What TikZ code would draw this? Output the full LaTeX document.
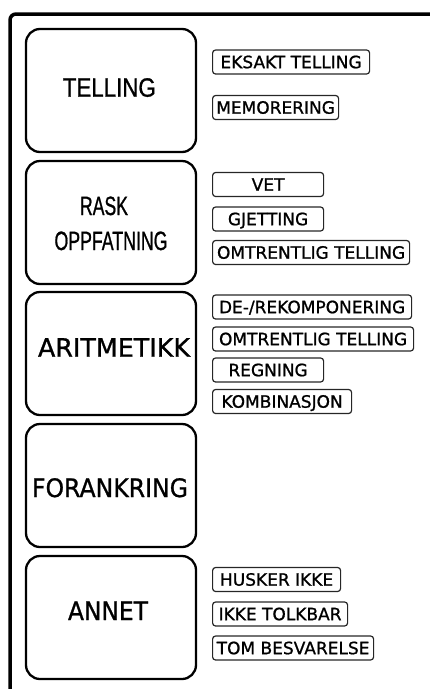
\documentclass[tikz,border=0pt]{standalone}
\usepackage{fontspec}
\usepackage{graphicx}
\setmainfont{DejaVu Sans}[FakeBold=1.0]
\newfontfamily\narrowfont{Liberation Sans}[FakeBold=1.1]
\newcommand\fitw[2]{\resizebox{#1}{\height}{#2}}
\tikzset{
  cat/.style={draw=black, line width=2.3pt, rounded corners=14pt, minimum width=170pt, minimum height=123pt, inner sep=0pt},
  sub/.style={draw=black!85, line width=1.2pt, rounded corners=3pt, minimum height=24pt, inner sep=0pt,
    text height=12.4pt, text depth=0pt, font=\fontsize{17}{17}\selectfont, anchor=west},
  big/.style={anchor=base, inner sep=0pt, font=\fontsize{25.4}{25.4}\selectfont},
  bign/.style={anchor=base, inner sep=0pt, font=\narrowfont\fontsize{26.5}{26.5}\selectfont},
  frame/.style={draw=black, line width=3.5pt, rounded corners=6pt},
}
\begin{document}
\begin{tikzpicture}[x=1pt, y=-1pt]
\useasboundingbox (0,0) rectangle (430,689);
\coordinate (fa) at (10,700);
\coordinate (fb) at (10,14);
\coordinate (fc) at (445,14);
\draw[frame] (fa) -- (fb) -- (fc);

% category boxes
\node[cat] (c1) at (111,90.5) {};
\node[cat] (c2) at (111,222.5) {};
\node[cat] (c3) at (111,353.5) {};
\node[cat] (c4) at (111,485.5) {};
\node[cat] (c5) at (111,617.5) {};

% category labels
\node[bign] (t1) at (109.3,96.7) {\fitw{93pt}{TELLING}};
\node[bign] (t2a) at (104,215) {\fitw{48pt}{RASK}};
\node[bign] (t2b) at (111,250) {\fitw{113pt}{OPPFATNING}};
\node[big] (t3) at (114,356.7) {\fitw{152pt}{ARITMETIKK}};
\node[big] (t4) at (110,497) {\fitw{156pt}{FORANKRING}};
\node[big] (t5) at (108,620) {\fitw{80pt}{ANNET}};

% sub-category boxes
\node[sub, minimum width=157pt] (s11) at (212,62) {EKSAKT TELLING};
\node[sub, minimum width=126pt] (s12) at (212,107.5) {MEMORERING};
\node[sub, minimum width=111pt] (s21) at (212,184.5) {VET};
\node[sub, minimum width=111pt] (s22) at (212,219) {GJETTING};
\node[sub, minimum width=197pt] (s23) at (212,252.5) {OMTRENTLIG TELLING};
\node[sub, minimum width=199pt] (s31) at (212,307) {DE-/REKOMPONERING};
\node[sub, minimum width=201pt] (s32) at (212,339) {OMTRENTLIG TELLING};
\node[sub, minimum width=111pt] (s33) at (212,370) {REGNING};
\node[sub, minimum width=139pt] (s34) at (212,401.5) {KOMBINASJON};
\node[sub, minimum width=128pt] (s51) at (212,579.5) {HUSKER IKKE};
\node[sub, minimum width=135pt] (s52) at (212,614) {IKKE TOLKBAR};
\node[sub, minimum width=161pt] (s53) at (212,648) {TOM BESVARELSE};
\end{tikzpicture}
\end{document}
